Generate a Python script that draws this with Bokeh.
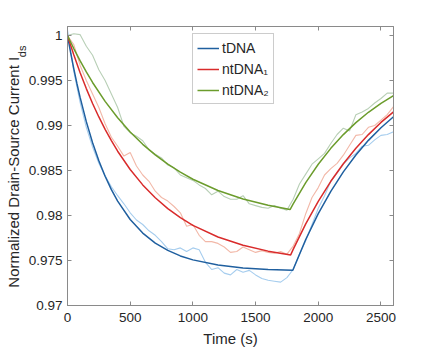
from bokeh.plotting import figure
from bokeh.models import (FixedTicker, LinearAxis, Legend, LegendItem, Range1d,
                          CustomLabelingPolicy)
from bokeh.embed import file_html
from bokeh.resources import INLINE

# ---------------- data ----------------
x_ticks = [0, 500, 1000, 1500, 2000, 2500]
y_ticks = [0.97, 0.975, 0.98, 0.985, 0.99, 0.995, 1.0]
y_tick_labels = ["0.97", "0.975", "0.98", "0.985", "0.99", "0.995", "1"]
series_names = ["tDNA", "ntDNA\u2081", "ntDNA\u2082"]
y_label_main = "Normalized Drain-Source Current I"
y_label_sub = "ds"

t_raw = list(range(0, 2601, 50))
tdna_raw = [1.0006, 0.9960, 0.9926, 0.9898, 0.9876, 0.9858, 0.9844, 0.9832, 0.9822, 0.9813,
            0.9803, 0.9795, 0.9790, 0.9783, 0.9778, 0.9771, 0.9763, 0.9762, 0.9764, 0.9760,
            0.9764, 0.9762, 0.9748, 0.9740, 0.9742, 0.9736, 0.9734, 0.9740, 0.9737, 0.9739,
            0.9734, 0.9730, 0.9728, 0.9727, 0.9726, 0.9731, 0.9740, 0.9757, 0.9772, 0.9790,
            0.9808, 0.9822, 0.9838, 0.9847, 0.9857, 0.9864, 0.9869, 0.9877, 0.9878, 0.9884,
            0.9889, 0.9890, 0.9893]
nt1_raw = [1.0000, 0.9990, 0.9967, 0.9950, 0.9935, 0.9920, 0.9902, 0.9887, 0.9877, 0.9866,
           0.9870, 0.9855, 0.9845, 0.9838, 0.9827, 0.9820, 0.9816, 0.9810, 0.9803, 0.9788,
           0.9790, 0.9778, 0.9771, 0.9771, 0.9769, 0.9765, 0.9759, 0.9760, 0.9765, 0.9762,
           0.9759, 0.9761, 0.9759, 0.9758, 0.9760, 0.9757, 0.9766, 0.9780, 0.9802, 0.9820,
           0.9831, 0.9845, 0.9852, 0.9858, 0.9867, 0.9878, 0.9889, 0.9890, 0.9898, 0.9900,
           0.9906, 0.9912, 0.9921]
nt2_raw = [1.0000, 1.0002, 1.0001, 0.9988, 0.9978, 0.9962, 0.9950, 0.9935, 0.9920, 0.9899,
           0.9892, 0.9888, 0.9883, 0.9873, 0.9868, 0.9864, 0.9856, 0.9853, 0.9845, 0.9842,
           0.9839, 0.9834, 0.9830, 0.9823, 0.9827, 0.9821, 0.9818, 0.9818, 0.9822, 0.9813,
           0.9811, 0.9809, 0.9808, 0.9811, 0.9808, 0.9806, 0.9818, 0.9835, 0.9846, 0.9857,
           0.9863, 0.9869, 0.9880, 0.9890, 0.9897, 0.9894, 0.9912, 0.9915, 0.9919, 0.9925,
           0.9930, 0.9936, 0.9936]

t_fit_tdna = [0, 25, 50, 75, 100, 150, 200, 250, 300, 350, 400, 500, 600, 700, 800, 900, 1000,
              1200, 1400, 1600, 1797, 1900, 2000, 2100, 2200, 2300, 2400, 2500, 2600]
tdna_fit = [1.0, 0.99809, 0.99632, 0.99467, 0.99315, 0.99043, 0.98809, 0.98608, 0.98436, 0.98287,
            0.9816, 0.97956, 0.97805, 0.97694, 0.97612, 0.97551, 0.97507, 0.97449, 0.97418,
            0.97401, 0.97391, 0.97733, 0.9802, 0.98269, 0.98485, 0.98672, 0.98835, 0.98975, 0.99097]

t_fit_nt1 = [0, 25, 50, 100, 150, 200, 250, 300, 350, 400, 500, 600, 700, 800, 900, 1000, 1200,
             1400, 1600, 1780, 1800, 1900, 2000, 2100, 2200, 2300, 2400, 2500, 2600]
nt1_fit = [1.0, 0.99891, 0.99786, 0.9959, 0.9941, 0.99245, 0.99095, 0.98957, 0.98832, 0.98714,
           0.98511, 0.9834, 0.98197, 0.98077, 0.97976, 0.97891, 0.97761, 0.97669, 0.97604,
           0.97562, 0.97623, 0.97907, 0.98158, 0.9838, 0.98575, 0.98747, 0.98899, 0.99034, 0.99152]

t_fit_nt2 = [0, 50, 100, 150, 200, 300, 400, 500, 600, 700, 800, 900, 1000, 1200, 1400, 1600,
             1775, 1800, 1900, 2000, 2100, 2200, 2300, 2400, 2500, 2600]
nt2_fit = [1.0, 0.99855, 0.9972, 0.99595, 0.99478, 0.99268, 0.99086, 0.98928, 0.98791, 0.98673,
           0.9857, 0.98481, 0.98403, 0.98278, 0.98184, 0.98114, 0.98066, 0.9813, 0.98365,
           0.98569, 0.98746, 0.98899, 0.99032, 0.99147, 0.99246, 0.99333]

# ---------------- styling ----------------
FONT = "Liberation Sans"
AX = "#8a8a8a"
TXT = "#262626"
NBSP = "\u00a0"
raw_colors = ["#a6cdee", "#f2b8a8", "#b8cfb6"]
fit_colors = ["#1f5f9f", "#d92b2b", "#6b9c2c"]

p = figure(frame_width=326, frame_height=279, output_backend="svg", toolbar_location=None,
           x_range=Range1d(0, 2600), y_range=Range1d(0.97, 1.001),
           min_border_left=67, min_border_right=10, min_border_top=26, min_border_bottom=42,
           background_fill_color="white", border_fill_color="white")
p.outline_line_color = AX
p.outline_line_width = 1
p.grid.visible = False

for xs, ys, c in [(t_raw, tdna_raw, raw_colors[0]), (t_raw, nt1_raw, raw_colors[1]),
                  (t_raw, nt2_raw, raw_colors[2])]:
    p.line(xs, ys, line_color=c, line_width=1.1)

fit_r = []
for xs, ys, c in [(t_fit_tdna, tdna_fit, fit_colors[0]), (t_fit_nt1, nt1_fit, fit_colors[1]),
                  (t_fit_nt2, nt2_fit, fit_colors[2])]:
    fit_r.append(p.line(xs, ys, line_color=c, line_width=1.5))


def style_axis(ax, ticks, labels=None, show_labels=True):
    ax.ticker = FixedTicker(ticks=ticks)
    ax.axis_line_color = AX
    ax.major_tick_line_color = AX
    ax.major_tick_in = 4
    ax.major_tick_out = 0
    ax.minor_tick_line_color = None
    ax.major_label_text_font = FONT
    ax.major_label_text_font_size = "13.5px"
    ax.major_label_text_color = TXT
    if labels is not None:
        ax.major_label_overrides = {v: s for v, s in zip(ticks, labels)}
    if not show_labels:
        ax.major_label_policy = CustomLabelingPolicy(code="return new Set()")
        ax.major_label_standoff = 0


def style_label(ax, size, standoff):
    ax.axis_label_text_font = FONT
    ax.axis_label_text_font_size = size
    ax.axis_label_text_font_style = "normal"
    ax.axis_label_text_color = TXT
    ax.axis_label_standoff = standoff


xa = p.xaxis[0]
style_axis(xa, x_ticks)
xa.major_label_standoff = 7
xa.axis_label = "Time (s)"
style_label(xa, "15px", 5)

# inner y axis: ticks + the subscript "ds" (padded so it sits at the top end)
ya = p.yaxis[0]
style_axis(ya, y_ticks, y_tick_labels)
ya.major_label_standoff = 5
ya.axis_label = NBSP * 75 + y_label_sub
style_label(ya, "11px", -2)

# outer y axis: only the main label text, pulled toward the subscript column
outer = LinearAxis(ticker=FixedTicker(ticks=[]), axis_line_color=None,
                   major_tick_line_color=None, minor_tick_line_color=None)
outer.axis_label = y_label_main + NBSP * 3
style_label(outer, "15px", -9)
p.add_layout(outer, "left")

top = LinearAxis()
style_axis(top, x_ticks, show_labels=False)
p.add_layout(top, "above")
right = LinearAxis()
style_axis(right, y_ticks, show_labels=False)
p.add_layout(right, "right")

legend = Legend(items=[LegendItem(label=n, renderers=[r]) for n, r in zip(series_names, fit_r)],
                location=(125, 201))
legend.label_text_font = FONT
legend.label_text_font_size = "14px"
legend.label_text_color = TXT
legend.glyph_width = 22
legend.glyph_height = 18
legend.label_height = 19
legend.label_standoff = 3
legend.spacing = 2
legend.padding = 4
legend.margin = 0
legend.border_line_color = "#999999"
legend.border_line_width = 1
legend.background_fill_color = "white"
legend.background_fill_alpha = 1
p.add_layout(legend)

open("out.html", "w").write(file_html(p, INLINE))
